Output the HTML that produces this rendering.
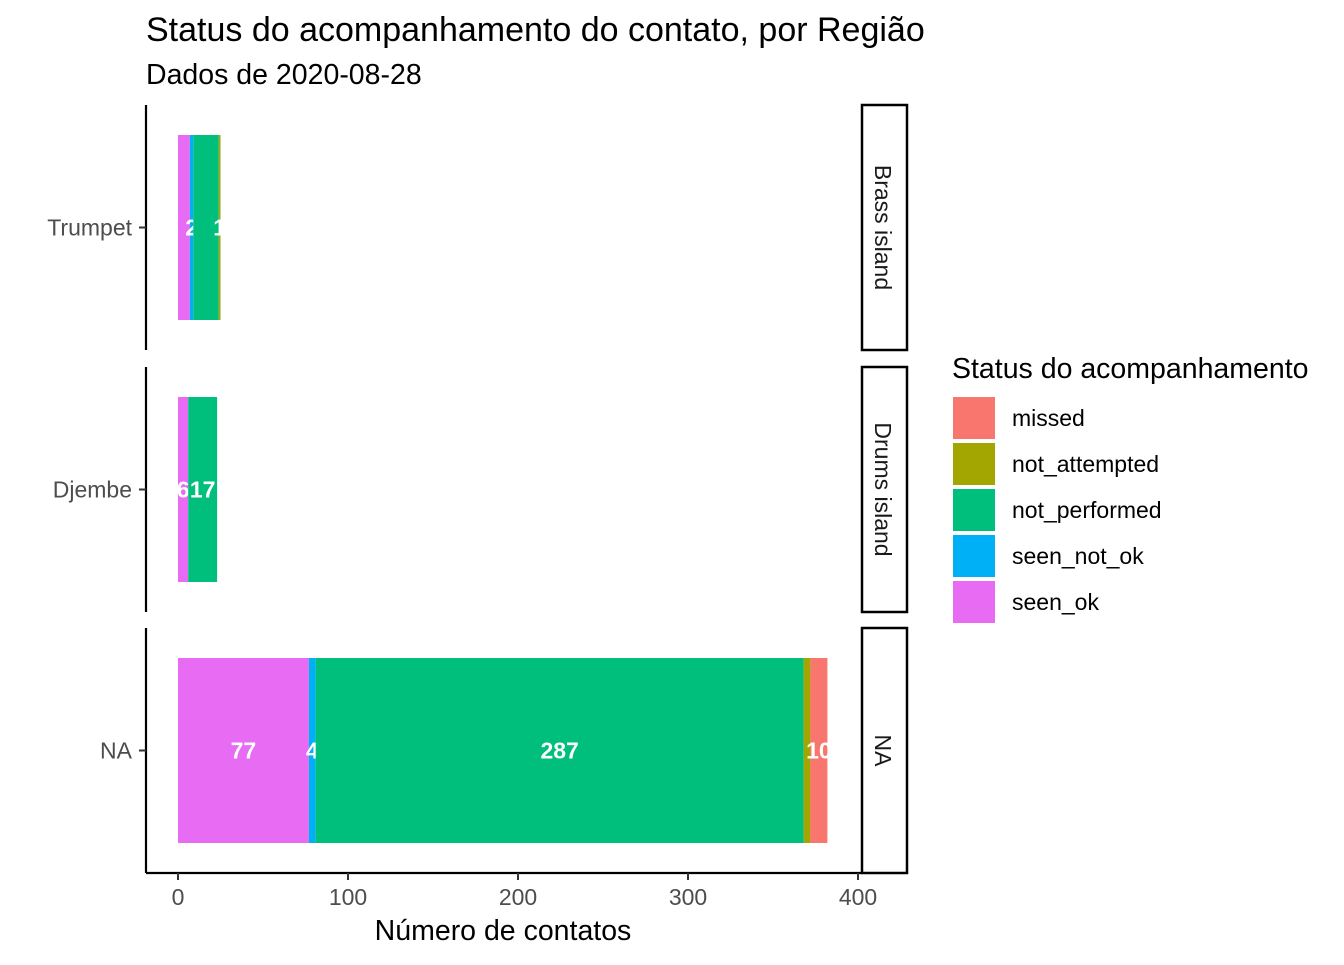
<!DOCTYPE html>
<html><head><meta charset="utf-8"><style>
body{margin:0;background:#fff;width:1344px;height:960px;overflow:hidden}
svg{font-family:"Liberation Sans",Arial,sans-serif}
</style></head><body>
<svg id="c" width="1344" height="960">
<text x="146" y="41" font-size="34" fill="#000">Status do acompanhamento do contato, por Região</text>
<text x="146" y="84" font-size="28.5" fill="#000">Dados de 2020-08-28</text>
<text x="503" y="940" font-size="28.5" text-anchor="middle" fill="#000">Número de contatos</text>
<text x="952" y="378" font-size="28.5" fill="#000">Status do acompanhamento</text>
<g id="bars"></g>
</svg>
<script>
const categories=["Trumpet","Djembe","NA"];
const facets=["Brass island","Drums island","NA"];
const statuses=["seen_ok","seen_not_ok","not_performed","not_attempted","missed"];
const colors=["#E76BF3","#00B0F6","#00BF7D","#A3A500","#F8766D"];
const seenOk=[7,6,77];
const seenNotOk=[2,0,4];
const notPerformed=[15,17,287];
const notAttempted=[1,0,4];
const missed=[0,0,10];
const labels=[["","2","","1",""],["6","","17","",""],["77","4","287","","10"]];
const xTicks=[0,100,200,300,400];
const legendOrder=["missed","not_attempted","not_performed","seen_not_ok","seen_ok"];
const legendColors=["#F8766D","#A3A500","#00BF7D","#00B0F6","#E76BF3"];

const NS="http://www.w3.org/2000/svg";
const svg=document.getElementById('c');
const x=v=>178+v*1.7;
const panelTop=[105,367,628],panelH=245;
function el(t,a,p){const e=document.createElementNS(NS,t);for(const k in a)e.setAttribute(k,a[k]);(p||svg).appendChild(e);return e;}
const series=[seenOk,seenNotOk,notPerformed,notAttempted,missed];
categories.forEach((cat,i)=>{
  const top=panelTop[i],bt=top+30,bh=185,cy=top+panelH/2;
  let acc=0;
  series.forEach((s,j)=>{
    const v=s[i];
    if(v>0){
      const r=el('rect',{x:x(acc),y:bt,width:x(acc+v)-x(acc),height:bh,fill:colors[j]});
      
      
    }
    const lab=labels[i][j];
    if(lab){
      const t=el('text',{x:x(acc+v/2),y:cy+8,'font-size':23,'font-weight':'bold',fill:'#fff','text-anchor':'middle'});
      t.textContent=lab;
      
      
    }
    acc+=v;
  });
  const ax=el('line',{x1:146,x2:146,y1:top,y2:top+panelH,stroke:'#000','stroke-width':2.2});
  
  
  el('line',{x1:139,x2:146,y1:cy,y2:cy,stroke:'#333','stroke-width':2});
  const yl=el('text',{x:132,y:cy+8,'font-size':23,fill:'#4d4d4d','text-anchor':'end'});
  yl.textContent=cat;
  
  
  const sr=el('rect',{x:862,y:top,width:45,height:panelH,fill:'#fff',stroke:'#000','stroke-width':2.5});
  
  
  const st=el('text',{x:0,y:0,'font-size':23,fill:'#1a1a1a','text-anchor':'middle',transform:`translate(875,${cy}) rotate(90)`});
  st.textContent=facets[i];
  
  
});
const xa=el('line',{x1:146,x2:862,y1:873,y2:873,stroke:'#000','stroke-width':2.2});


xTicks.forEach(t=>{
  el('line',{x1:x(t),x2:x(t),y1:873,y2:880,stroke:'#333','stroke-width':2});
  const tl=el('text',{x:x(t),y:905,'font-size':23,fill:'#4d4d4d','text-anchor':'middle'});
  tl.textContent=t;
  
  
});
legendOrder.forEach((n,i)=>{
  const y=397+i*46;
  const k=el('rect',{x:953,y:y,width:42,height:42,fill:legendColors[i]});
  
  
  const t=el('text',{x:1012,y:y+29,'font-size':23,fill:'#000'});
  t.textContent=n;
  
  
});
</script>
</body></html>
